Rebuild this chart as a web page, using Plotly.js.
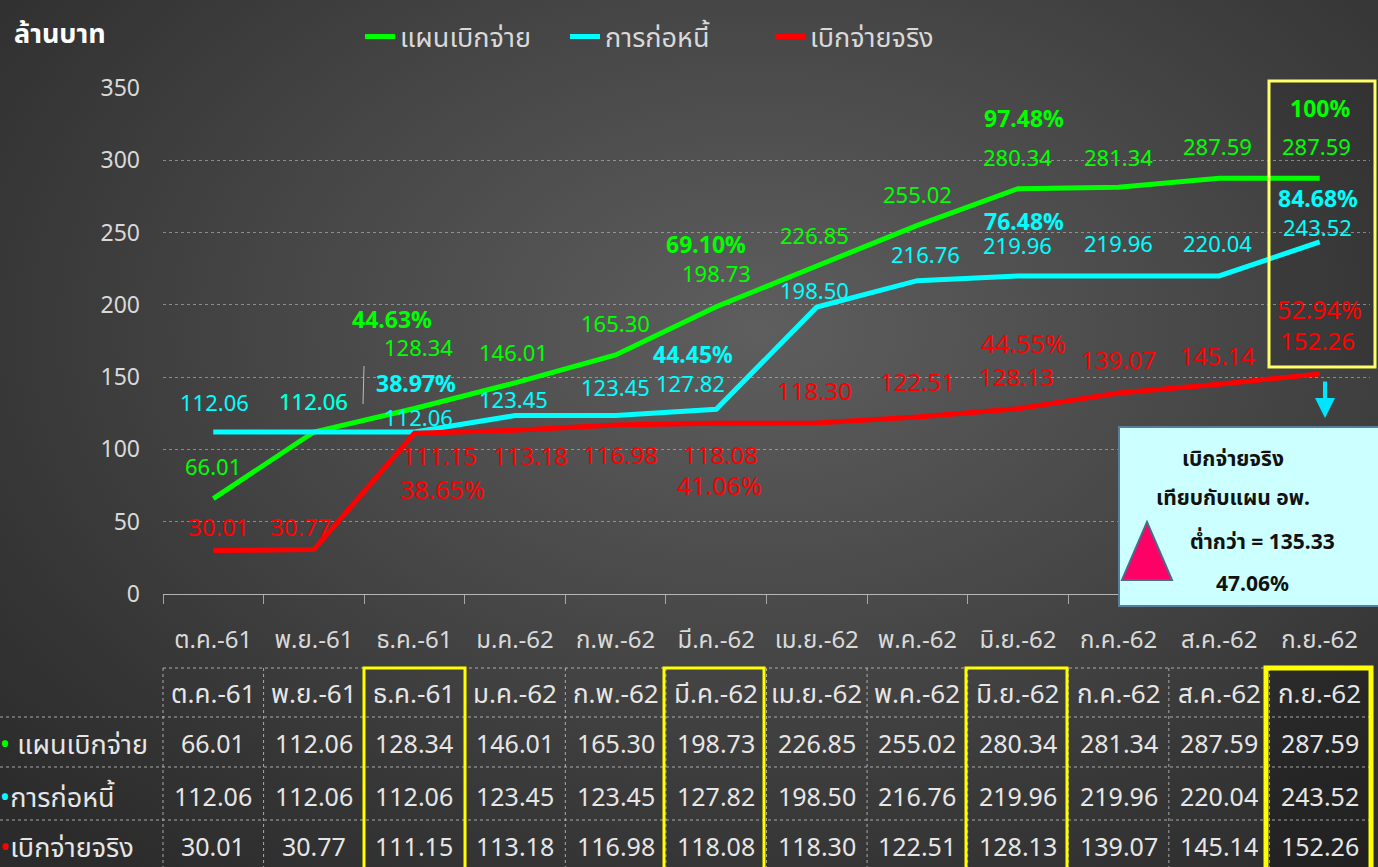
<!DOCTYPE html>
<html>
<head>
<meta charset="utf-8">
<script src="https://cdn.plot.ly/plotly-3.0.1.min.js"></script>
<style>
html,body{margin:0;padding:0;width:1378px;height:867px;overflow:hidden;}
body{background:radial-gradient(ellipse 75% 80% at 55% 38%, #5e5e5e 0%, #474747 45%, #343434 80%, #2b2b2b 100%);}
#chart{width:1378px;height:867px;}
</style>
</head>
<body>
<div id="chart"></div>
<script>
// ---- data ----
const months = ["ต.ค.-61","พ.ย.-61","ธ.ค.-61","ม.ค.-62","ก.พ.-62","มี.ค.-62","เม.ย.-62","พ.ค.-62","มิ.ย.-62","ก.ค.-62","ส.ค.-62","ก.ย.-62"];
const seriesNames = ["แผนเบิกจ่าย","การก่อหนี้","เบิกจ่ายจริง"];
const plan   = [66.01,112.06,128.34,146.01,165.30,198.73,226.85,255.02,280.34,281.34,287.59,287.59];
const debt   = [112.06,112.06,112.06,123.45,123.45,127.82,198.50,216.76,219.96,219.96,220.04,243.52];
const actual = [30.01,30.77,111.15,113.18,116.98,118.08,118.30,122.51,128.13,139.07,145.14,152.26];
const planPct   = {2:"44.63%",5:"69.10%",8:"97.48%",11:"100%"};
const debtPct   = {2:"38.97%",5:"44.45%",8:"76.48%",11:"84.68%"};
const actualPct = {2:"38.65%",5:"41.06%",8:"44.55%",11:"52.94%"};
const yTicks = [0,50,100,150,200,250,300,350];
const boxLines = ["เบิกจ่ายจริง","เทียบกับแผน อพ.","ต่ำกว่า = 135.33","47.06%"];
const yUnit = "ล้านบาท";

// ---- style ----
const FONT = '"Noto Sans","Noto Sans Thai","DejaVu Sans",sans-serif';
const colors = ["#00ff00","#00ffff","#ff0000"];
const values = [plan, debt, actual];
const pcts = [planPct, debtPct, actualPct];
const valSize = [22,22,24];
// label offsets [xshift, yshift] per series per month
const valOff = [
  [[0,33],[0,31],[4,61],[-2,31],[0,32],[0,34],[-2,31],[0,31],[0,32],[0,30],[-2,32],[-3,32]],
  [[1,30],[0,31],[4,15],[-2,17],[0,29],[-26,26],[-2,17],[8,27],[0,31],[0,33],[-2,33],[-2,15]],
  [[5,24],[-13,23],[25,-22],[15,-25],[5,-30],[4,-31],[-2,32],[0,35],[-1,32],[0,33],[-2,29],[-2,33]]
];
const pctOff = [
  {2:[-22,89],5:[-10,63],8:[6,71],11:[0,70]},
  {2:[2,49],5:[-23,55],8:[6,55],11:[-2,44]},
  {2:[28,-56],5:[3,-62],8:[6,66],11:[0,65]}
];
const pctBold = [true,true,false];

// pixel helpers for decoration (plot area: x 163..1370, y 88..594)
const xp = px => (px-163)/1207;
const yp = py => (594-py)/506;

const traces = values.map((v,k)=>({
  type:'scatter', mode:'lines', x:months, y:v, name:seriesNames[k],
  line:{color:colors[k], width:5}, hoverinfo:'x+y'
}));

const ann = [];
// data labels
values.forEach((v,k)=>{
  v.forEach((val,i)=>{
    ann.push({x:months[i], y:val, xref:'x', yref:'y', xanchor:'center', yanchor:'middle', text:val.toFixed(2), showarrow:false,
      xshift:valOff[k][i][0], yshift:valOff[k][i][1], font:{family:FONT,size:valSize[k],color:colors[k]}});
  });
  Object.keys(pcts[k]).forEach(key=>{
    const i = +key;
    const t = pctBold[k] ? '<b>'+pcts[k][key]+'</b>' : pcts[k][key];
    ann.push({x:months[i], y:v[i], xref:'x', yref:'y', xanchor:'center', yanchor:'middle', text:t, showarrow:false,
      xshift:pctOff[k][i][0], yshift:pctOff[k][i][1], font:{family:FONT,size:pctBold[k]?23:25,color:colors[k]}});
  });
});
// y unit title
ann.push({xref:'paper',yref:'paper',x:xp(12),y:yp(33),xanchor:'left',yanchor:'middle',text:'<b>'+yUnit+'</b>',showarrow:false,
  font:{family:FONT,size:27,color:'#ffffff'}});
// info box text
const boxY = [458,497,541,583], boxX=[1233,1233,1262,1252];
boxLines.forEach((t,j)=>ann.push({xref:'paper',yref:'paper',x:xp(boxX[j]),y:yp(boxY[j]),xanchor:'center',yanchor:'middle',
  text:'<b>'+t+'</b>',showarrow:false,font:{family:FONT,size:21,color:'#111111'}}));
// arrow
ann.push({xref:'paper',yref:'paper',x:xp(1325),y:yp(418),ax:0,ay:-38,text:'',showarrow:true,arrowhead:2,arrowsize:1,arrowwidth:4,arrowcolor:'#00e5ff'});

// table
const rowY = [743,796,846];
const headY = 693;
months.forEach((m,i)=>{
  ann.push({x:m,xref:'x',yref:'paper',y:yp(headY),xanchor:'center',yanchor:'middle',text:m,showarrow:false,font:{family:FONT,size:26,color:'#e6e6e6'}});
  values.forEach((v,k)=>ann.push({x:m,xref:'x',yref:'paper',y:yp(rowY[k]),xanchor:'center',yanchor:'middle',text:v[i].toFixed(2),showarrow:false,
    font:{family:FONT,size:25,color:'#e6e6e6'}}));
});
seriesNames.forEach((n,k)=>ann.push({xref:'paper',yref:'paper',x:xp(-2),xanchor:'left',yanchor:'middle',y:yp(rowY[k]),
  text:'<span style="color:'+colors[k]+'">•</span>'+(k===0?' ':'')+n,showarrow:false,font:{family:FONT,size:27,color:'#e6e6e6'}}));

const shapes = [];
const gridLine = {color:'rgba(210,210,210,0.75)',width:1,dash:'dot'};
// table horizontal lines
shapes.push({type:'line',xref:'paper',yref:'paper',x0:xp(163),x1:xp(1370),y0:yp(668),y1:yp(668),line:gridLine});
[717,767,820].forEach(py=>shapes.push({type:'line',xref:'paper',yref:'paper',x0:xp(0),x1:xp(1370),y0:yp(py),y1:yp(py),line:gridLine}));
// table vertical lines
for(let j=0;j<=12;j++){
  const px = 163+j*1207/12;
  shapes.push({type:'line',xref:'paper',yref:'paper',x0:xp(px),x1:xp(px),y0:yp(668),y1:yp(867),line:gridLine});
}
// darker fill for last column + chart box
shapes.push({type:'rect',xref:'paper',yref:'paper',x0:xp(1268),x1:xp(1376),y0:yp(80),y1:yp(367),fillcolor:'rgba(0,0,0,0.12)',line:{width:0},layer:'below'});
shapes.push({type:'rect',xref:'paper',yref:'paper',x0:xp(1268),x1:xp(1370),y0:yp(668),y1:yp(867),fillcolor:'rgba(0,0,0,0.25)',line:{width:0},layer:'below'});
// yellow highlight boxes in table
[[364,465,668,870,3],[664,764,668,870,3],[966,1067,668,870,3],[1266,1371,668,870,5]].forEach(b=>
  shapes.push({type:'rect',xref:'paper',yref:'paper',x0:xp(b[0]),x1:xp(b[1]),y0:yp(b[2]),y1:yp(b[3]),line:{color:'#ffff00',width:b[4]}}));
// yellow box in chart
shapes.push({type:'rect',xref:'paper',yref:'paper',x0:xp(1269),x1:xp(1375),y0:yp(81),y1:yp(367),line:{color:'#ffff66',width:3}});
// leader line
shapes.push({type:'line',xref:'paper',yref:'paper',x0:xp(364),x1:xp(363),y0:yp(366),y1:yp(404),line:{color:'#bbbbbb',width:1}});
// info box
shapes.push({type:'rect',xref:'paper',yref:'paper',x0:xp(1119),x1:xp(1380),y0:yp(427),y1:yp(606),fillcolor:'#ccffff',line:{color:'#5a7d9a',width:2}});
// triangle
shapes.push({type:'path',xref:'paper',yref:'paper',
  path:`M ${xp(1122)} ${yp(580)} L ${xp(1172)} ${yp(580)} L ${xp(1147)} ${yp(522)} Z`,
  fillcolor:'#ff0066',line:{color:'#4a6a8a',width:2}});

const layout = {
  width:1378,height:867,
  margin:{l:163,r:8,t:88,b:273},
  paper_bgcolor:'rgba(0,0,0,0)',plot_bgcolor:'rgba(0,0,0,0)',
  font:{family:FONT,color:'#d9d9d9'},
  showlegend:true,
  legend:{orientation:'h',x:xp(360),xanchor:'left',y:yp(37),yanchor:'middle',
    entrywidth:160,entrywidthmode:'pixels',
    font:{family:FONT,size:27,color:'#d9d9d9'},bgcolor:'rgba(0,0,0,0)'},
  xaxis:{type:'category',range:[-0.5,11.5],showgrid:false,zeroline:false,
    showline:true,linecolor:'rgba(210,210,210,0.8)',linewidth:1,
    ticks:'outside',tickson:'boundaries',ticklen:9,tickcolor:'rgba(210,210,210,0.7)',
    tickfont:{family:FONT,size:24,color:'#d9d9d9'},ticklabelstandoff:24},
  yaxis:{range:[0,350],tickvals:yTicks,showgrid:true,gridcolor:'rgba(200,200,200,0.55)',griddash:'dot',gridwidth:1,
    zeroline:false,tickfont:{family:FONT,size:23,color:'#d9d9d9'},ticklabelstandoff:22},
  annotations:ann,
  shapes:shapes
};
Plotly.newPlot('chart',traces,layout,{displayModeBar:false,staticPlot:true});
</script>
</body>
</html>
